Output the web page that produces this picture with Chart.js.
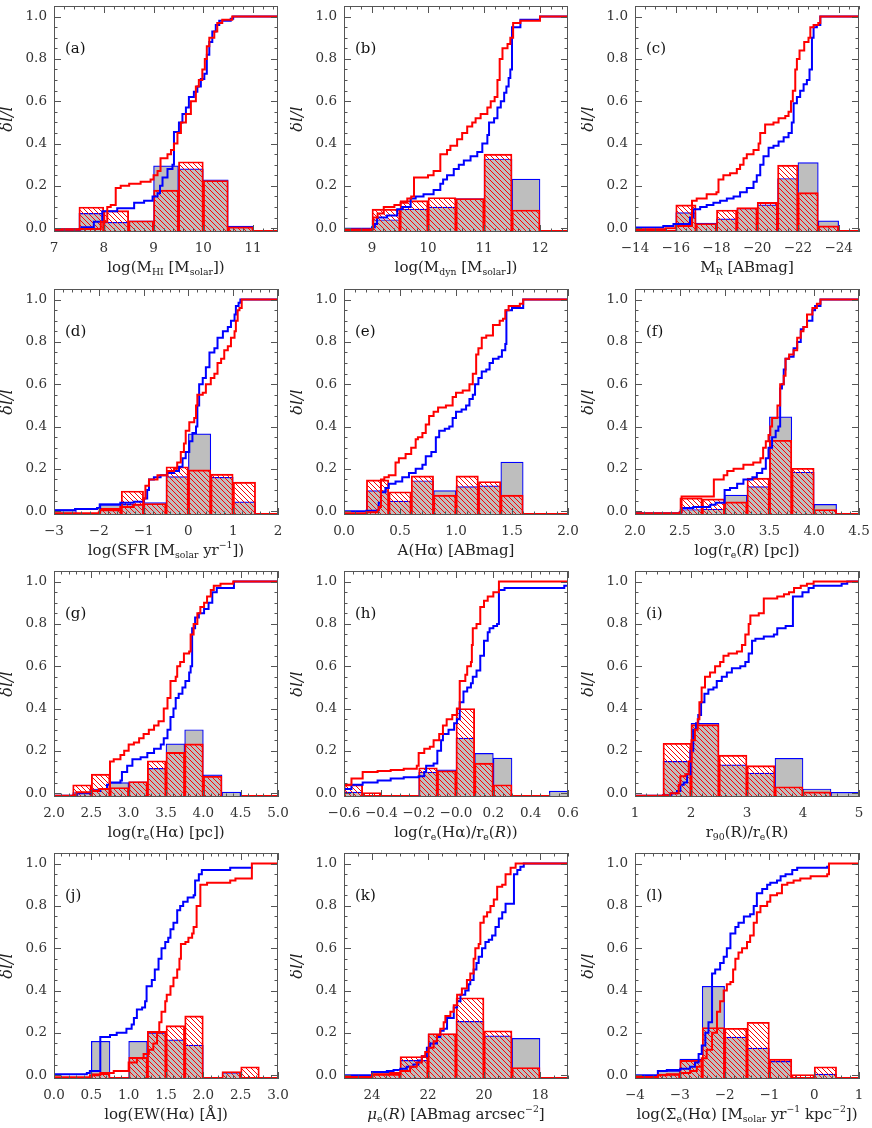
<!DOCTYPE html>
<html>
<head>
<meta charset="utf-8">
<script src="https://cdn.jsdelivr.net/npm/chart.js@4.4.0/dist/chart.umd.min.js"></script>
<style>
  body { margin: 0; background: #fff; width: 872px; height: 1128px; position: relative; overflow: hidden; }
  canvas { position: absolute; }
</style>
</head>
<body>
<script>
// ---- data ----
const yTicks = [0, 0.2, 0.4, 0.6, 0.8, 1.0];

// (a) log M_HI
const binsA = [7.75, 8.25, 8.75, 9.25, 9.75, 10.25, 10.75];
const blueHistA = [0.07, 0.028, 0.035, 0.295, 0.28, 0.228, 0.01];
const redHistA = [0.1, 0.083, 0.035, 0.18, 0.314, 0.225, 0.006];
const cumBlueA = [[7,-0.005],[7.55,0.005],[7.8,0.03],[7.97,0.08],[8.27,0.094],[8.61,0.12],[8.81,0.13],[8.98,0.15],[9.08,0.165],[9.13,0.2],[9.18,0.24],[9.28,0.28],[9.38,0.3],[9.41,0.455],[9.51,0.5],[9.58,0.54],[9.65,0.57],[9.71,0.62],[9.81,0.645],[9.88,0.67],[9.95,0.705],[10.02,0.73],[10.07,0.82],[10.12,0.88],[10.18,0.93],[10.25,0.96],[10.32,0.98],[10.55,0.99],[10.6,1.0],[11.5,1.0]];
const cumRedA = [[7.0,-0.005],[7.5,-0.004],[7.94,0.03],[8.07,0.1],[8.14,0.11],[8.24,0.19],[8.34,0.2],[8.51,0.21],[8.74,0.22],[8.94,0.23],[9.0,0.25],[9.08,0.27],[9.14,0.33],[9.28,0.35],[9.35,0.37],[9.41,0.4],[9.48,0.45],[9.55,0.5],[9.65,0.54],[9.75,0.6],[9.85,0.67],[9.91,0.7],[9.98,0.75],[10.03,0.8],[10.07,0.86],[10.12,0.9],[10.22,0.93],[10.28,0.97],[10.38,0.985],[10.58,1.0],[11.5,1.0]];
const ticksA = [7, 8, 9, 10, 11];
const tickLabelsA = ['7', '8', '9', '10', '11'];

// (b) log M_dyn
const binsB = [9.25, 9.75, 10.25, 10.75, 11.25, 11.75];
const blueHistB = [0.04, 0.09, 0.10, 0.14, 0.327, 0.232];
const redHistB = [0.09, 0.13, 0.145, 0.14, 0.35, 0.086];
const cumBlueB = [[8.5,-0.003],[9.0,0.005],[9.05,0.02],[9.09,0.05],[9.27,0.06],[9.45,0.09],[9.54,0.1],[9.69,0.14],[9.78,0.15],[9.92,0.16],[10.1,0.18],[10.22,0.21],[10.27,0.23],[10.34,0.25],[10.46,0.28],[10.55,0.3],[10.64,0.32],[10.76,0.34],[10.88,0.36],[10.97,0.4],[11.06,0.44],[11.09,0.5],[11.18,0.52],[11.24,0.57],[11.3,0.6],[11.36,0.64],[11.4,0.67],[11.44,0.71],[11.47,0.75],[11.5,0.95],[11.65,0.985],[12.0,1.0],[12.5,1.0]];
const cumRedB = [[8.5,-0.006],[9.0,-0.004],[9.02,0.05],[9.1,0.07],[9.21,0.1],[9.4,0.11],[9.51,0.12],[9.63,0.14],[9.7,0.15],[9.75,0.24],[10.0,0.25],[10.1,0.27],[10.22,0.35],[10.34,0.37],[10.4,0.39],[10.52,0.42],[10.61,0.45],[10.7,0.48],[10.79,0.5],[10.85,0.52],[10.94,0.54],[11.06,0.57],[11.12,0.6],[11.19,0.62],[11.24,0.7],[11.28,0.8],[11.33,0.85],[11.42,0.87],[11.47,0.9],[11.52,0.97],[11.65,0.98],[12.0,1.0],[12.5,1.0]];
const ticksB = [9, 10, 11, 12];
const tickLabelsB = ['9', '10', '11', '12'];

// (c) M_R
const binsC = [-16.5, -17.5, -18.5, -19.5, -20.5, -21.5, -22.5, -23.5];
const blueHistC = [0.074, 0.024, 0.044, 0.094, 0.11, 0.235, 0.31, 0.035];
const redHistC = [0.11, 0.022, 0.086, 0.097, 0.122, 0.298, 0.168, 0.011];
const cumBlueC = [[-14,0.003],[-15.39,0.01],[-15.89,0.02],[-16.7,0.05],[-16.87,0.09],[-17.2,0.1],[-17.52,0.11],[-17.85,0.12],[-18.18,0.13],[-18.51,0.14],[-18.84,0.15],[-19.16,0.17],[-19.49,0.19],[-19.82,0.22],[-19.98,0.25],[-20.15,0.3],[-20.31,0.34],[-20.56,0.38],[-20.8,0.39],[-21.05,0.41],[-21.3,0.43],[-21.54,0.45],[-21.7,0.5],[-21.79,0.59],[-21.95,0.62],[-22.11,0.65],[-22.28,0.68],[-22.44,0.7],[-22.57,0.75],[-22.69,0.9],[-22.77,0.95],[-22.93,0.96],[-23.1,1.0],[-25,1.0]];
const cumRedC = [[-14,-0.005],[-15.5,0.0],[-16.0,0.01],[-16.8,0.13],[-17.03,0.14],[-17.52,0.16],[-18.0,0.17],[-18.1,0.23],[-18.34,0.25],[-18.67,0.26],[-19.0,0.28],[-19.16,0.3],[-19.33,0.33],[-19.49,0.35],[-19.82,0.37],[-20.07,0.4],[-20.15,0.45],[-20.39,0.49],[-20.8,0.5],[-21.05,0.52],[-21.38,0.53],[-21.54,0.55],[-21.66,0.6],[-21.75,0.65],[-21.87,0.75],[-21.95,0.8],[-22.08,0.84],[-22.31,0.88],[-22.52,0.9],[-22.61,0.95],[-22.77,0.96],[-23.0,0.97],[-23.1,1.0],[-25,1.0]];
const ticksC = [-14, -16, -18, -20, -22, -24];
const tickLabelsC = ['\u221214', '\u221216', '\u221218', '\u221220', '\u221222', '\u221224'];

// (d) log SFR
const binsD = [-2.75, -2.25, -1.75, -1.25, -0.75, -0.25, 0.25, 0.75, 1.25];
const blueHistD = [0.008, 0, 0.036, 0.032, 0.041, 0.163, 0.365, 0.16, 0.044];
const redHistD = [0, 0, 0.013, 0.095, 0.036, 0.21, 0.195, 0.175, 0.137];
const cumBlueD = [[-3,0.005],[-2.53,0.01],[-2.04,0.015],[-1.97,0.03],[-1.52,0.04],[-1.22,0.045],[-0.99,0.06],[-0.92,0.1],[-0.88,0.15],[-0.77,0.16],[-0.62,0.17],[-0.47,0.18],[-0.32,0.19],[-0.21,0.21],[-0.13,0.25],[-0.06,0.28],[0.02,0.33],[0.09,0.37],[0.17,0.4],[0.2,0.5],[0.24,0.6],[0.32,0.63],[0.39,0.68],[0.47,0.75],[0.58,0.77],[0.65,0.82],[0.77,0.85],[0.88,0.87],[0.95,0.9],[1.03,0.93],[1.06,0.97],[1.12,0.985],[1.16,1.0],[2,1.0]];
const cumRedD = [[-3,-0.01],[-2.0,-0.005],[-1.97,0.005],[-1.52,0.02],[-1.22,0.03],[-1.0,0.06],[-0.96,0.12],[-0.88,0.15],[-0.69,0.17],[-0.47,0.19],[-0.32,0.2],[-0.25,0.23],[-0.17,0.28],[-0.1,0.32],[-0.06,0.38],[0.02,0.42],[0.13,0.44],[0.17,0.5],[0.2,0.55],[0.32,0.56],[0.39,0.6],[0.5,0.63],[0.58,0.65],[0.65,0.7],[0.73,0.72],[0.8,0.76],[0.88,0.78],[0.95,0.82],[1.03,0.85],[1.06,0.9],[1.1,0.95],[1.14,0.96],[1.19,1.0],[2,1.0]];
const ticksD = [-3, -2, -1, 0, 1, 2];
const tickLabelsD = ['\u22123', '\u22122', '\u22121', '0', '1', '2'];

// (e) A(Halpha)
const binsE = [0.3, 0.5, 0.7, 0.9, 1.1, 1.3, 1.5];
const blueHistE = [0.097, 0.048, 0.144, 0.097, 0.116, 0.12, 0.232];
const redHistE = [0.148, 0.092, 0.167, 0.076, 0.167, 0.14, 0.076];
const cumBlueE = [[0,0.0],[0.2,0.002],[0.3,0.005],[0.31,0.04],[0.33,0.09],[0.37,0.11],[0.4,0.13],[0.46,0.14],[0.52,0.16],[0.58,0.18],[0.64,0.2],[0.7,0.22],[0.73,0.26],[0.78,0.28],[0.82,0.35],[0.85,0.38],[0.9,0.39],[0.94,0.4],[0.97,0.44],[1.0,0.47],[1.05,0.48],[1.09,0.5],[1.12,0.53],[1.15,0.55],[1.17,0.6],[1.2,0.63],[1.23,0.66],[1.27,0.67],[1.3,0.7],[1.33,0.72],[1.38,0.73],[1.41,0.76],[1.44,0.79],[1.45,0.95],[1.5,0.96],[1.6,1.0],[2,1.0]];
const cumRedE = [[0,-0.01],[0.2,-0.005],[0.3,0.005],[0.31,0.02],[0.33,0.15],[0.36,0.16],[0.4,0.17],[0.46,0.23],[0.49,0.25],[0.55,0.27],[0.6,0.3],[0.64,0.34],[0.66,0.35],[0.7,0.37],[0.73,0.41],[0.76,0.45],[0.8,0.47],[0.84,0.49],[0.91,0.5],[0.97,0.54],[1.0,0.56],[1.06,0.57],[1.12,0.6],[1.15,0.65],[1.18,0.74],[1.2,0.77],[1.23,0.82],[1.27,0.83],[1.33,0.88],[1.39,0.9],[1.42,0.91],[1.44,0.95],[1.47,0.97],[1.57,0.98],[1.6,1.0],[2,1.0]];
const ticksE = [0, 0.5, 1, 1.5, 2];
const tickLabelsE = ['0.0', '0.5', '1.0', '1.5', '2.0'];

// (f) log r_e(R)
const binsF = [2.625, 2.875, 3.125, 3.375, 3.625, 3.875, 4.125];
const blueHistF = [0.008, 0.01, 0.076, 0.116, 0.446, 0.184, 0.032];
const redHistF = [0.063, 0.058, 0.044, 0.156, 0.335, 0.203, 0.008];
const cumBlueF = [[2,-0.01],[2.5,-0.005],[2.52,0.015],[2.65,0.02],[2.84,0.03],[2.9,0.04],[3.0,0.1],[3.06,0.11],[3.14,0.13],[3.21,0.15],[3.31,0.16],[3.36,0.18],[3.42,0.2],[3.46,0.25],[3.49,0.3],[3.53,0.35],[3.57,0.38],[3.6,0.4],[3.62,0.58],[3.64,0.6],[3.66,0.67],[3.68,0.72],[3.72,0.73],[3.77,0.77],[3.81,0.8],[3.85,0.86],[3.88,0.87],[3.92,0.9],[3.98,0.95],[4.01,0.97],[4.07,1.0],[4.5,1.0]];
const cumRedF = [[2,-0.01],[2.5,-0.005],[2.52,0.07],[2.88,0.15],[2.99,0.17],[3.03,0.19],[3.1,0.2],[3.21,0.22],[3.32,0.23],[3.4,0.25],[3.43,0.3],[3.46,0.33],[3.49,0.36],[3.51,0.4],[3.53,0.44],[3.59,0.5],[3.62,0.6],[3.66,0.64],[3.68,0.72],[3.72,0.74],[3.77,0.76],[3.81,0.82],[3.85,0.85],[3.88,0.87],[3.92,0.93],[3.98,0.96],[4.03,0.98],[4.07,1.0],[4.5,1.0]];
const ticksF = [2, 2.5, 3, 3.5, 4, 4.5];
const tickLabelsF = ['2.0', '2.5', '3.0', '3.5', '4.0', '4.5'];

// (g) log r_e(Halpha)
const binsG = [2.375, 2.625, 2.875, 3.125, 3.375, 3.625, 3.875, 4.125, 4.375];
const blueHistG = [0.003, 0.02, 0.05, 0.054, 0.117, 0.233, 0.30, 0.087, 0.005];
const redHistG = [0.04, 0.09, 0.027, 0.055, 0.153, 0.193, 0.233, 0.08, 0];
const cumBlueG = [[2,-0.012],[2.31,0.0],[2.49,0.01],[2.62,0.02],[2.71,0.04],[2.75,0.05],[2.89,0.06],[2.91,0.1],[2.98,0.13],[3.05,0.16],[3.16,0.17],[3.25,0.19],[3.34,0.21],[3.43,0.23],[3.47,0.26],[3.52,0.3],[3.56,0.36],[3.6,0.4],[3.63,0.45],[3.67,0.47],[3.72,0.5],[3.76,0.53],[3.81,0.57],[3.83,0.6],[3.85,0.78],[3.89,0.83],[3.94,0.85],[4.01,0.87],[4.07,0.9],[4.12,0.95],[4.18,0.97],[4.41,1.0],[5,1.0]];
const cumRedG = [[2,-0.012],[2.26,-0.01],[2.3,0.005],[2.5,0.01],[2.6,0.02],[2.75,0.15],[2.8,0.16],[2.89,0.18],[2.94,0.2],[3.0,0.23],[3.07,0.24],[3.14,0.26],[3.2,0.28],[3.27,0.3],[3.34,0.32],[3.4,0.34],[3.47,0.4],[3.52,0.45],[3.56,0.53],[3.63,0.55],[3.65,0.6],[3.69,0.62],[3.74,0.66],[3.81,0.67],[3.83,0.75],[3.87,0.8],[3.92,0.85],[3.96,0.88],[4.01,0.9],[4.05,0.93],[4.1,0.96],[4.14,0.98],[4.23,0.99],[4.4,1.0],[5,1.0]];
const ticksG = [2, 2.5, 3, 3.5, 4, 4.5, 5];
const tickLabelsG = ['2.0', '2.5', '3.0', '3.5', '4.0', '4.5', '5.0'];

// (h) log r_e(Halpha)/r_e(R)
const binsH = [-0.55, -0.45, -0.35, -0.25, -0.15, -0.05, 0.05, 0.15, 0.25, 0.35, 0.45, 0.55];
const blueHistH = [0.005, 0, 0, 0, 0.10, 0.11, 0.26, 0.188, 0.166, 0, 0, 0.01];
const redHistH = [0.04, 0.003, 0, 0, 0.12, 0.106, 0.40, 0.142, 0.04, 0, 0, 0];
const cumBlueH = [[-0.6,0.02],[-0.56,0.04],[-0.5,0.05],[-0.42,0.06],[-0.35,0.07],[-0.28,0.075],[-0.2,0.08],[-0.17,0.1],[-0.16,0.13],[-0.12,0.14],[-0.1,0.2],[-0.08,0.25],[-0.07,0.28],[-0.04,0.3],[-0.01,0.33],[0.005,0.35],[0.02,0.43],[0.04,0.48],[0.06,0.5],[0.08,0.52],[0.09,0.55],[0.11,0.58],[0.13,0.65],[0.15,0.72],[0.17,0.76],[0.18,0.78],[0.2,0.79],[0.22,0.8],[0.23,0.96],[0.26,0.97],[0.58,0.98],[0.6,0.99]];
const cumRedH = [[-0.6,0.04],[-0.56,0.07],[-0.5,0.1],[-0.42,0.105],[-0.35,0.11],[-0.28,0.115],[-0.21,0.13],[-0.2,0.19],[-0.17,0.21],[-0.14,0.22],[-0.12,0.25],[-0.09,0.28],[-0.07,0.32],[-0.05,0.35],[-0.02,0.37],[0.005,0.4],[0.02,0.53],[0.05,0.56],[0.06,0.6],[0.08,0.62],[0.085,0.7],[0.09,0.78],[0.11,0.8],[0.13,0.88],[0.15,0.91],[0.17,0.93],[0.2,0.95],[0.23,1.0],[0.6,1.0]];
const ticksH = [-0.6, -0.4, -0.2, 0, 0.2, 0.4, 0.6];
const tickLabelsH = ['\u22120.6', '\u22120.4', '\u22120.2', '\u22120.0', '0.2', '0.4', '0.6'];

// (i) r_90/r_e
const binsI = [1.75, 2.25, 2.75, 3.25, 3.75, 4.25, 4.75];
const blueHistI = [0.15, 0.33, 0.134, 0.095, 0.165, 0.02, 0.004];
const redHistI = [0.236, 0.324, 0.18, 0.13, 0.03, 0.006, 0];
const cumBlueI = [[1,-0.012],[1.5,-0.01],[1.65,0.0],[1.75,0.01],[1.81,0.04],[1.87,0.05],[1.93,0.09],[1.99,0.2],[2.04,0.3],[2.09,0.33],[2.13,0.37],[2.18,0.43],[2.24,0.47],[2.31,0.49],[2.4,0.5],[2.46,0.53],[2.55,0.55],[2.64,0.57],[2.73,0.59],[2.88,0.6],[2.97,0.62],[3.03,0.66],[3.09,0.72],[3.15,0.73],[3.3,0.74],[3.48,0.75],[3.54,0.78],[3.69,0.79],[3.82,0.93],[3.99,0.95],[4.1,0.97],[4.19,0.98],[4.69,0.99],[4.79,1.0],[5,1.0]];
const cumRedI = [[1,-0.012],[1.5,-0.01],[1.63,0.0],[1.78,0.04],[1.81,0.08],[1.9,0.09],[1.96,0.15],[2.01,0.25],[2.07,0.3],[2.12,0.35],[2.15,0.43],[2.19,0.5],[2.25,0.55],[2.34,0.57],[2.43,0.6],[2.52,0.62],[2.58,0.65],[2.67,0.66],[2.82,0.67],[2.91,0.7],[2.97,0.75],[3.03,0.8],[3.06,0.84],[3.21,0.85],[3.3,0.92],[3.54,0.93],[3.66,0.94],[3.75,0.95],[3.84,0.97],[3.96,0.98],[4.07,0.99],[4.19,1.0],[5,1.0]];
const ticksI = [1, 2, 3, 4, 5];
const tickLabelsI = ['1', '2', '3', '4', '5'];

// (j) log EW(Halpha)
const binsJ = [0.125, 0.375, 0.625, 0.875, 1.125, 1.375, 1.625, 1.875, 2.125, 2.375, 2.625];
const blueHistJ = [0, 0, 0.16, 0, 0.16, 0.2, 0.167, 0.142, 0, 0.012, 0];
const redHistJ = [0, 0, 0.008, 0, 0.084, 0.207, 0.234, 0.28, 0, 0.017, 0.04];
const cumBlueJ = [[0,0.005],[0.44,0.01],[0.48,0.02],[0.62,0.18],[0.75,0.19],[0.84,0.2],[0.97,0.22],[1.04,0.24],[1.07,0.27],[1.11,0.31],[1.18,0.32],[1.22,0.35],[1.24,0.42],[1.31,0.45],[1.35,0.5],[1.4,0.55],[1.44,0.6],[1.49,0.63],[1.53,0.65],[1.56,0.69],[1.6,0.72],[1.65,0.78],[1.69,0.8],[1.73,0.82],[1.79,0.84],[1.87,0.85],[1.89,0.92],[1.94,0.95],[1.98,0.97],[2.36,0.98],[2.65,0.985]];
const cumRedJ = [[0,-0.01],[0.48,0.0],[0.62,0.01],[0.8,0.02],[1.0,0.06],[1.11,0.08],[1.2,0.1],[1.27,0.12],[1.33,0.15],[1.38,0.2],[1.41,0.25],[1.44,0.3],[1.49,0.35],[1.51,0.38],[1.56,0.42],[1.6,0.46],[1.65,0.5],[1.68,0.55],[1.7,0.62],[1.76,0.63],[1.8,0.65],[1.85,0.67],[1.87,0.7],[1.91,0.8],[1.96,0.9],[2.05,0.91],[2.36,0.92],[2.43,0.93],[2.65,1.0],[3,1.0]];
const ticksJ = [0, 0.5, 1, 1.5, 2, 2.5, 3];
const tickLabelsJ = ['0.0', '0.5', '1.0', '1.5', '2.0', '2.5', '3.0'];

// (k) mu_e(R)
const binsK = [23.5, 22.5, 21.5, 20.5, 19.5, 18.5];
const blueHistK = [0.015, 0.07, 0.194, 0.254, 0.186, 0.174];
const redHistK = [0.005, 0.088, 0.197, 0.366, 0.21, 0.036];
const cumBlueK = [[25,0.0],[24,0.015],[23.47,0.02],[23.23,0.025],[22.99,0.03],[22.76,0.04],[22.52,0.05],[22.34,0.07],[22.22,0.09],[22.04,0.13],[21.92,0.15],[21.68,0.18],[21.56,0.21],[21.44,0.22],[21.32,0.27],[21.08,0.32],[20.96,0.35],[20.84,0.38],[20.67,0.4],[20.55,0.43],[20.49,0.45],[20.37,0.5],[20.27,0.53],[20.19,0.56],[20.07,0.6],[19.95,0.63],[19.83,0.64],[19.71,0.66],[19.59,0.7],[19.47,0.74],[19.35,0.77],[19.23,0.81],[18.93,0.95],[18.81,0.97],[18.7,0.985],[18.58,1.0],[17,1.0]];
const cumRedK = [[25,-0.008],[24,0.005],[23.35,0.01],[22.99,0.02],[22.64,0.04],[22.4,0.06],[22.22,0.09],[22.1,0.11],[21.98,0.13],[21.8,0.16],[21.68,0.19],[21.56,0.22],[21.44,0.25],[21.38,0.28],[21.2,0.3],[21.08,0.33],[20.96,0.38],[20.79,0.41],[20.61,0.45],[20.49,0.48],[20.37,0.55],[20.31,0.6],[20.19,0.62],[20.13,0.72],[20.01,0.75],[19.89,0.77],[19.77,0.8],[19.65,0.83],[19.53,0.89],[19.35,0.9],[19.23,0.95],[19.05,0.98],[18.87,1.0],[17,1.0]];
const ticksK = [24, 22, 20, 18];
const tickLabelsK = ['24', '22', '20', '18'];

// (l) log Sigma_e(Halpha)
const binsL = [-3.25, -2.75, -2.25, -1.75, -1.25, -0.75, -0.25, 0.25];
const blueHistL = [0.02, 0.076, 0.42, 0.18, 0.128, 0.065, 0, 0.005];
const redHistL = [0.005, 0.07, 0.225, 0.222, 0.25, 0.076, 0.003, 0.04];
const cumBlueL = [[-4,0.0],[-3.49,0.02],[-3.29,0.025],[-2.99,0.03],[-2.77,0.04],[-2.66,0.06],[-2.58,0.1],[-2.51,0.14],[-2.43,0.2],[-2.36,0.25],[-2.28,0.48],[-2.21,0.5],[-2.1,0.53],[-2.02,0.56],[-1.95,0.6],[-1.87,0.67],[-1.76,0.7],[-1.69,0.72],[-1.57,0.75],[-1.43,0.76],[-1.35,0.8],[-1.28,0.86],[-1.16,0.88],[-1.05,0.9],[-0.98,0.91],[-0.83,0.92],[-0.75,0.94],[-0.64,0.95],[-0.49,0.97],[-0.38,0.98],[0.29,0.985],[0.33,1.0]];
const cumRedL = [[-4,-0.008],[-3.49,0.0],[-3.29,0.005],[-2.99,0.01],[-2.77,0.02],[-2.62,0.04],[-2.51,0.08],[-2.4,0.12],[-2.28,0.2],[-2.17,0.3],[-2.1,0.35],[-2.02,0.4],[-1.95,0.43],[-1.87,0.44],[-1.81,0.5],[-1.76,0.55],[-1.69,0.58],[-1.61,0.6],[-1.5,0.63],[-1.43,0.66],[-1.35,0.72],[-1.28,0.77],[-1.2,0.8],[-1.05,0.82],[-0.98,0.85],[-0.83,0.86],[-0.72,0.9],[-0.6,0.91],[-0.46,0.92],[-0.31,0.93],[-0.08,0.94],[0.29,0.95],[0.33,1.0],[1,1.0]];
const ticksL = [-4, -3, -2, -1, 0, 1];
const tickLabelsL = ['\u22124', '\u22123', '\u22122', '\u22121', '0', '1'];

// ---- layout ----
const Y_MIN = -0.018, Y_MAX = 1.05;
const FONT = '"DejaVu Serif", serif';
const colLeft = [0, 290, 581];
const rowTop = [0, 283, 565, 847];

const panels = [
  { tag: '(a)', bins: binsA, blue: blueHistA, red: redHistA, cb: cumBlueA, cr: cumRedA, ticks: ticksA, labels: tickLabelsA, min: 7, max: 11.5, minor: 0.2,
    title: [['log(M'], ['HI', 'b'], [' [M'], ['solar', 'b'], ['])']] },
  { tag: '(b)', bins: binsB, blue: blueHistB, red: redHistB, cb: cumBlueB, cr: cumRedB, ticks: ticksB, labels: tickLabelsB, min: 8.5, max: 12.5, minor: 0.2,
    title: [['log(M'], ['dyn', 'b'], [' [M'], ['solar', 'b'], ['])']] },
  { tag: '(c)', bins: binsC, blue: blueHistC, red: redHistC, cb: cumBlueC, cr: cumRedC, ticks: ticksC, labels: tickLabelsC, min: -25, max: -14, minor: 0.5, reverse: true,
    title: [['M'], ['R', 'b'], [' [ABmag]']] },
  { tag: '(d)', bins: binsD, blue: blueHistD, red: redHistD, cb: cumBlueD, cr: cumRedD, ticks: ticksD, labels: tickLabelsD, min: -3, max: 2, minor: 0.2,
    title: [['log(SFR [M'], ['solar', 'b'], [' yr'], ['\u22121', 'p'], ['])']] },
  { tag: '(e)', bins: binsE, blue: blueHistE, red: redHistE, cb: cumBlueE, cr: cumRedE, ticks: ticksE, labels: tickLabelsE, min: 0, max: 2, minor: 0.1,
    title: [['A(H\u03b1) [ABmag]']] },
  { tag: '(f)', bins: binsF, blue: blueHistF, red: redHistF, cb: cumBlueF, cr: cumRedF, ticks: ticksF, labels: tickLabelsF, min: 2, max: 4.5, minor: 0.1,
    title: [['log(r'], ['e', 'b'], ['('], ['R', 'i'], [') [pc])']] },
  { tag: '(g)', bins: binsG, blue: blueHistG, red: redHistG, cb: cumBlueG, cr: cumRedG, ticks: ticksG, labels: tickLabelsG, min: 2, max: 5, minor: 0.1,
    title: [['log(r'], ['e', 'b'], ['(H\u03b1) [pc])']] },
  { tag: '(h)', bins: binsH, blue: blueHistH, red: redHistH, cb: cumBlueH, cr: cumRedH, ticks: ticksH, labels: tickLabelsH, min: -0.6, max: 0.6, minor: 0.05,
    title: [['log(r'], ['e', 'b'], ['(H\u03b1)/r'], ['e', 'b'], ['('], ['R', 'i'], ['))']] },
  { tag: '(i)', bins: binsI, blue: blueHistI, red: redHistI, cb: cumBlueI, cr: cumRedI, ticks: ticksI, labels: tickLabelsI, min: 1, max: 5, minor: 0.2,
    title: [['r'], ['90', 'b'], ['(R)/r'], ['e', 'b'], ['(R)']] },
  { tag: '(j)', bins: binsJ, blue: blueHistJ, red: redHistJ, cb: cumBlueJ, cr: cumRedJ, ticks: ticksJ, labels: tickLabelsJ, min: 0, max: 3, minor: 0.1,
    title: [['log(EW(H\u03b1) [\u00c5])']] },
  { tag: '(k)', bins: binsK, blue: blueHistK, red: redHistK, cb: cumBlueK, cr: cumRedK, ticks: ticksK, labels: tickLabelsK, min: 17, max: 25, minor: 0.5, reverse: true,
    title: [['\u03bc', 'i'], ['e', 'b'], ['('], ['R', 'i'], [') [ABmag arcsec'], ['\u22122', 'p'], [']']] },
  { tag: '(l)', bins: binsL, blue: blueHistL, red: redHistL, cb: cumBlueL, cr: cumRedL, ticks: ticksL, labels: tickLabelsL, min: -4, max: 1, minor: 0.2,
    title: [['log(\u03a3'], ['e', 'b'], ['(H\u03b1) [M'], ['solar', 'b'], [' yr'], ['\u22121', 'p'], [' kpc'], ['\u22122', 'p'], ['])']] },
];

function hatchPattern() {
  const s = 5;
  const c = document.createElement('canvas');
  c.width = s; c.height = s;
  const g = c.getContext('2d');
  g.strokeStyle = '#ff0000';
  g.lineWidth = 1;
  g.beginPath();
  g.moveTo(-1, -1); g.lineTo(s + 1, s + 1);
  g.moveTo(-1, s - 1); g.lineTo(1, s + 1);
  g.moveTo(s - 1, -1); g.lineTo(s + 1, 1);
  g.stroke();
  return g.createPattern(c, 'repeat');
}
const hatch = hatchPattern();

// rich text with sub/superscripts, centred on (cx, cy)
function drawRich(ctx, segs, cx, cy, size) {
  const fontFor = k => (k === 'i' ? 'italic ' : '') + ((k === 'b' || k === 'p') ? size * 0.62 : size) + 'px ' + FONT;
  let w = 0;
  segs.forEach(([t, k]) => { ctx.font = fontFor(k); w += ctx.measureText(t).width; });
  let x = cx - w / 2;
  ctx.textAlign = 'left';
  ctx.textBaseline = 'middle';
  segs.forEach(([t, k]) => {
    ctx.font = fontFor(k);
    const dy = k === 'b' ? size * 0.32 : k === 'p' ? -size * 0.38 : 0;
    ctx.fillText(t, x, cy + dy);
    x += ctx.measureText(t).width;
  });
}

const framePlugin = {
  id: 'frame',
  afterDatasetsDraw(chart, args, o) {
    const { ctx, chartArea: a, scales: { x, y } } = chart;
    ctx.save();
    ctx.strokeStyle = '#555';
    ctx.lineWidth = 1;
    ctx.strokeRect(a.left + 0.5, a.top + 0.5, a.width - 1, a.height - 1);
    ctx.beginPath();
    const xt = (v, len) => {
      const px = Math.round(x.getPixelForValue(v)) + 0.5;
      ctx.moveTo(px, a.bottom); ctx.lineTo(px, a.bottom - len);
      ctx.moveTo(px, a.top); ctx.lineTo(px, a.top + len);
    };
    const yt = (v, len) => {
      const py = Math.round(y.getPixelForValue(v)) + 0.5;
      ctx.moveTo(a.left, py); ctx.lineTo(a.left + len, py);
      ctx.moveTo(a.right, py); ctx.lineTo(a.right - len, py);
    };
    for (let k = Math.ceil(x.min / o.minor - 1e-6); k * o.minor <= x.max + 1e-6; k++) {
      const v = k * o.minor;
      const major = o.ticks.some(t => Math.abs(t - v) < 1e-6);
      xt(v, major ? 7 : 3.5);
    }
    for (let k = 0; k * 0.05 <= Y_MAX - 0.01; k++) {
      yt(k * 0.05, k % 4 === 0 ? 7 : 3.5);
    }
    ctx.stroke();
    ctx.restore();
  },
  afterDraw(chart, args, o) {
    const { ctx, chartArea: a } = chart;
    ctx.save();
    ctx.fillStyle = '#222';
    drawRich(ctx, o.title, (a.left + a.right) / 2, a.bottom + 36, 15);
    // y title
    ctx.save();
    ctx.translate(a.left - 46, (a.top + a.bottom) / 2);
    ctx.rotate(-Math.PI / 2);
    ctx.font = 'italic 16px ' + FONT;
    ctx.textAlign = 'center';
    ctx.textBaseline = 'middle';
    ctx.fillText('\u03b4l/l', 0, 0);
    ctx.restore();
    // panel tag
    ctx.fillStyle = '#111';
    ctx.font = '15px ' + FONT;
    ctx.textAlign = 'left';
    ctx.textBaseline = 'middle';
    ctx.fillText(o.tag, a.left + 11, a.top + 43);
    ctx.restore();
  }
};

function toPts(arr) { return arr.map(([x, y]) => ({ x, y })); }
function toBars(bins, vals) { return bins.map((x, i) => ({ x, y: vals[i] > 0 ? vals[i] : null })); }

panels.forEach((p, i) => {
  const cv = document.createElement('canvas');
  cv.width = 290; cv.height = 280;
  cv.style.left = colLeft[i % 3] + 'px';
  cv.style.top = rowTop[Math.floor(i / 3)] + 'px';
  document.body.appendChild(cv);

  const barOpts = { type: 'bar', grouped: false, barPercentage: 1, categoryPercentage: 1, base: Y_MIN, borderWidth: 1.2 };

  new Chart(cv, {
    type: 'line',
    data: {
      datasets: [
        { type: 'line', data: [{ x: p.min, y: Y_MIN + 0.006 }, { x: p.max, y: Y_MIN + 0.006 }], borderColor: '#ff0000', borderWidth: 1.5, pointRadius: 0, order: 5 },
        Object.assign({ data: toBars(p.bins, p.blue), backgroundColor: '#bebebe', borderColor: '#0000ff', order: 4 }, barOpts),
        Object.assign({ data: toBars(p.bins, p.red), backgroundColor: hatch, borderColor: '#ff0000', order: 3 }, barOpts),
        { type: 'line', data: toPts(p.cb), stepped: true, borderColor: '#0000ff', borderWidth: 2, pointRadius: 0, order: 2 },
        { type: 'line', data: toPts(p.cr), stepped: true, borderColor: '#ff0000', borderWidth: 2, pointRadius: 0, order: 1 },
      ]
    },
    options: {
      responsive: false,
      animation: false,
      devicePixelRatio: 1,
      events: [],
      layout: { padding: { top: 6, right: 12, left: 0, bottom: 0 } },
      plugins: {
        legend: { display: false },
        tooltip: { enabled: false },
        frame: { ticks: p.ticks, minor: p.minor, title: p.title, tag: p.tag },
      },
      scales: {
        x: {
          type: 'linear', min: p.min, max: p.max, reverse: !!p.reverse, offset: false,
          afterBuildTicks: s => { s.ticks = p.ticks.map(v => ({ value: v })); },
          afterFit: s => { s.height = 48; s.paddingLeft = 0; s.paddingRight = 0; },
          grid: { display: false, drawTicks: false },
          border: { display: false },
          ticks: {
            autoSkip: false, maxRotation: 0, padding: 8, color: '#333',
            font: { family: FONT, size: 13.5 },
            callback: (v, idx) => p.labels[idx],
          },
        },
        y: {
          type: 'linear', min: Y_MIN, max: Y_MAX,
          afterBuildTicks: s => { s.ticks = yTicks.map(v => ({ value: v })); },
          afterFit: s => { s.width = 54; s.paddingTop = 0; s.paddingBottom = 0; },
          grid: { display: false, drawTicks: false },
          border: { display: false },
          ticks: {
            padding: 7, color: '#333',
            font: { family: FONT, size: 13.5 },
            callback: v => v.toFixed(1),
          },
        },
      },
    },
    plugins: [framePlugin],
  });
});
</script>
</body>
</html>
